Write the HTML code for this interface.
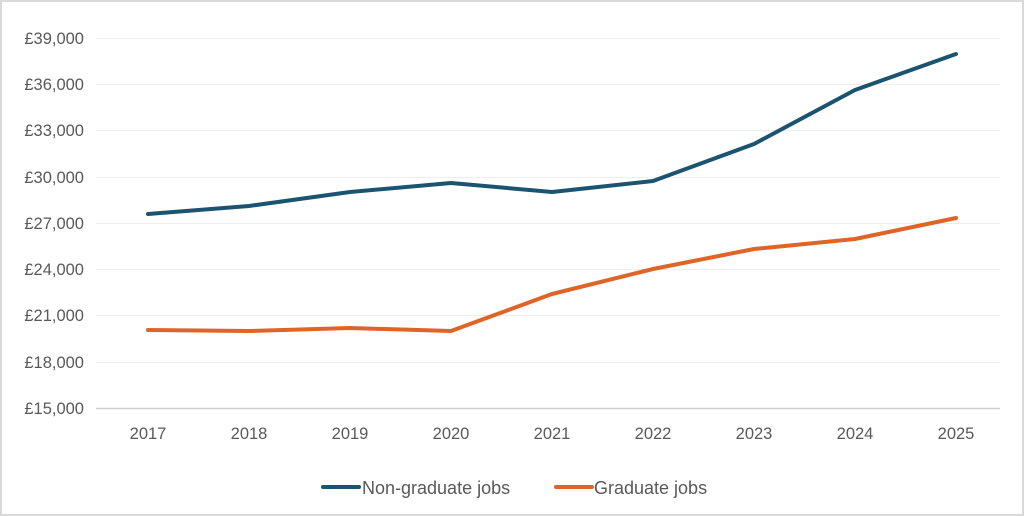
<!DOCTYPE html>
<html><head><meta charset="utf-8"><style>
html,body{margin:0;padding:0;background:#fff}
svg{display:block}
text{font-family:"Liberation Sans",sans-serif;font-size:16.5px;fill:#595959}
</style></head><body>
<svg width="1024" height="516" viewBox="0 0 1024 516" xmlns="http://www.w3.org/2000/svg">
<rect x="1" y="1" width="1022" height="514" fill="#fff" stroke="#d9d9d9" stroke-width="2"/>
<g stroke="#eeeeee" stroke-width="1">
<line x1="96" x2="1000" y1="38.5" y2="38.5"/>
<line x1="96" x2="1000" y1="84.5" y2="84.5"/>
<line x1="96" x2="1000" y1="130.5" y2="130.5"/>
<line x1="96" x2="1000" y1="177.5" y2="177.5"/>
<line x1="96" x2="1000" y1="223.5" y2="223.5"/>
<line x1="96" x2="1000" y1="269.5" y2="269.5"/>
<line x1="96" x2="1000" y1="315.5" y2="315.5"/>
<line x1="96" x2="1000" y1="362.5" y2="362.5"/>
</g>
<line x1="96" x2="1000" y1="408.5" y2="408.5" stroke="#d0d0d0" stroke-width="1.5"/>
<g text-anchor="end">
<text x="84" y="44">£39,000</text>
<text x="84" y="90">£36,000</text>
<text x="84" y="136">£33,000</text>
<text x="84" y="183">£30,000</text>
<text x="84" y="229">£27,000</text>
<text x="84" y="275">£24,000</text>
<text x="84" y="321">£21,000</text>
<text x="84" y="368">£18,000</text>
<text x="84" y="414">£15,000</text>
</g>
<g text-anchor="middle">
<text x="148" y="439">2017</text>
<text x="249" y="439">2018</text>
<text x="350" y="439">2019</text>
<text x="451" y="439">2020</text>
<text x="552" y="439">2021</text>
<text x="653" y="439">2022</text>
<text x="754" y="439">2023</text>
<text x="855" y="439">2024</text>
<text x="956" y="439">2025</text>
</g>
<polyline fill="none" stroke="#1b5470" stroke-width="4" stroke-linejoin="round" stroke-linecap="round"
points="148,214 249,206 350,192 451,183 552,192 653,181 754,144 855,90 956,54"/>
<polyline fill="none" stroke="#df6426" stroke-width="4" stroke-linejoin="round" stroke-linecap="round"
points="148,330 249,331 350,328 451,331 552,294 653,269 754,249 855,239 956,218"/>
<line x1="323" x2="359" y1="487" y2="487" stroke="#1b5470" stroke-width="4" stroke-linecap="round"/>
<text x="362" y="494" style="font-size:18px">Non-graduate jobs</text>
<line x1="556" x2="592" y1="487" y2="487" stroke="#df6426" stroke-width="4" stroke-linecap="round"/>
<text x="594" y="494" style="font-size:18px">Graduate jobs</text>
</svg>
</body></html>
